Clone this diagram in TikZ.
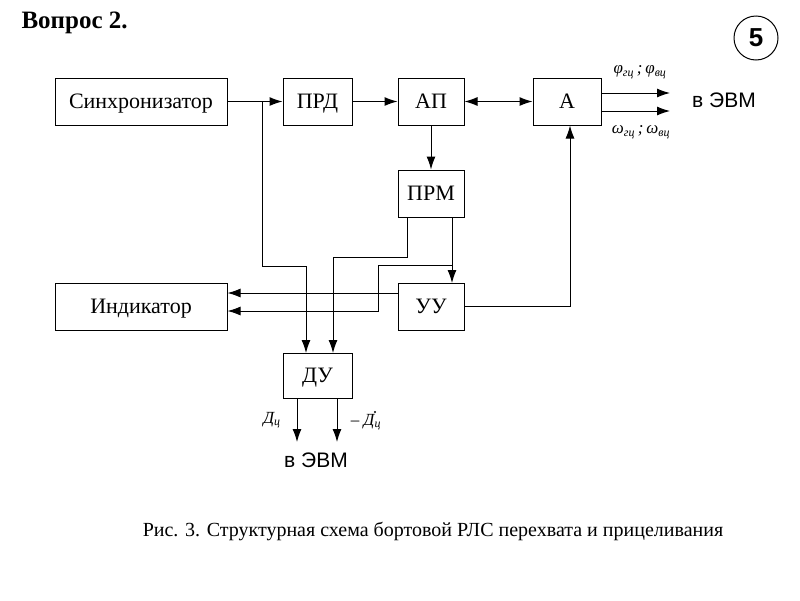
\documentclass[tikz,border=0pt]{standalone}
\usepackage{fontspec}
\setmainfont{Liberation Serif}
\newfontfamily\sans{Liberation Sans}
\usetikzlibrary{arrows.meta}
\begin{document}
\begin{tikzpicture}[x=1pt,y=-1pt,
  box/.style={draw,line width=1pt,minimum height=47pt,font=\fontsize{22}{22}\selectfont,inner sep=0pt,text height=15pt,text depth=1pt},
  tip/.style={Latex[length=13pt,width=9pt]},
  ar/.style={-{Latex[length=13pt,width=9pt]},line width=1pt},
  lab/.style={font=\itshape\fontsize{17}{17}\selectfont}]
\useasboundingbox (0,0) rectangle (800,600);
\node[box,minimum width=172pt] (sync) at (141,101.5) {Синхронизатор};
\node[box,minimum width=69pt] (prd) at (317.5,101.5) {ПРД};
\node[box,minimum width=66pt] (ap) at (431,101.5) {АП};
\node[box,minimum width=68pt] (a) at (567,101.5) {А};
\node[box,minimum width=66pt] (prm) at (431,193.5) {ПРМ};
\node[box,minimum width=172pt] (ind) at (141,306.5) {Индикатор};
\node[box,minimum width=66pt] (uu) at (431,306.5) {УУ};
\node[box,minimum width=69pt,minimum height=45pt] (du) at (317.5,375.5) {ДУ};
\coordinate (j1) at (262,101.5);
\coordinate (j2) at (452,265);
\coordinate (o1) at (670,93);
\coordinate (o2) at (670,111);
\coordinate (d1) at (297,442);
\coordinate (d2) at (337,442);
\draw[ar] (sync) -- (prd);
\draw[ar] (prd) -- (ap);
\draw[{Latex[length=13pt,width=9pt]}-{Latex[length=13pt,width=9pt]},line width=1pt] (ap) -- (a);
\draw[ar] (ap) -- (prm);
\draw[ar] (j1) -- (262,266) -- (306,266) -- (306,353);
\draw[ar] (407,217) -- (407,257) -- (333,257) -- (333,353);
\draw[ar] (452,217) -- (452,283);
\draw[ar] (j2) -- (378,265) -- (378,311) -- (ind.east |- 0,311);
\draw[ar] (uu.west |- 0,293) -- (ind.east |- 0,293);
\draw[ar] (uu.east) -- (570,306.5) -- (a.south -| 570,0);
\draw[ar] (a.east |- o1) -- (o1);
\draw[ar] (a.east |- o2) -- (o2);
\draw[ar] (du.south -| d1) -- (d1);
\draw[ar] (du.south -| d2) -- (d2);
\node[lab] at (640,72) {φ\textsubscript{гц}\,;\,φ\textsubscript{вц}};
\node[lab] at (641,132) {ω\textsubscript{гц}\,;\,ω\textsubscript{вц}};
\node[font=\sans\fontsize{21}{21}\selectfont] at (724,100) {в ЭВМ};
\node[font=\sans\fontsize{21}{21}\selectfont] at (316,460) {в ЭВМ};
\node[lab] at (272,420) {Д\textsubscript{ц}};
\node[lab] (dd) at (366,422) {– Д\textsubscript{ц}};
\fill (375,412) circle (1.2);
\node[anchor=west,font=\bfseries\fontsize{25}{25}\selectfont] at (18,23) {Вопрос 2.};
\draw[line width=1pt] (756,38) circle (22);
\node[font=\sans\bfseries\fontsize{26}{26}\selectfont] at (756,38) {5};
\node[font=\fontsize{20}{20}\selectfont] at (433,531) {Рис. 3. Структурная схема бортовой РЛС перехвата и прицеливания};
\end{tikzpicture}
\end{document}
